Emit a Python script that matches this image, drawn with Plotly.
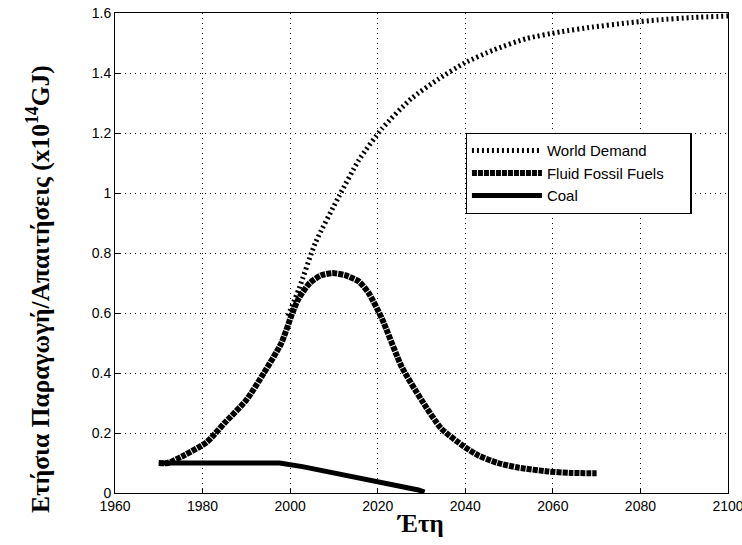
import plotly.graph_objs as go

# values
fossil_years = [1970, 1972, 1976, 1981, 1985, 1990, 1994, 1998, 2000.5, 2002, 2004.5,
                2007, 2009.6, 2012.5, 2015.7, 2018, 2021, 2025.5, 2030, 2034.5,
                2039.7, 2043, 2047.4, 2052, 2058.8, 2064, 2070]
fossil_vals = [0.10, 0.10, 0.127, 0.17, 0.233, 0.31, 0.40, 0.50, 0.60, 0.65, 0.70,
               0.725, 0.733, 0.726, 0.705, 0.665, 0.58, 0.42, 0.31, 0.215,
               0.155, 0.125, 0.10, 0.085, 0.072, 0.067, 0.066]

coal_years = [1970, 1980, 1990, 1997.6, 2002.8, 2010.3, 2020.3, 2026, 2029.3, 2030.7]
coal_vals = [0.10, 0.10, 0.10, 0.10, 0.088, 0.067, 0.037, 0.02, 0.01, 0.003]

demand_years = [1999.5, 2002, 2005.8, 2011.2, 2015.7, 2021, 2027.7, 2033.9, 2039.8,
                2046.5, 2054, 2061.7, 2069, 2077, 2084, 2092, 2100]
demand_vals = [0.59, 0.68, 0.835, 0.99, 1.11, 1.215, 1.315, 1.38, 1.433,
               1.477, 1.515, 1.537, 1.553, 1.567, 1.577, 1.585, 1.59]

fig = go.Figure()
fig.add_trace(go.Scatter(x=demand_years, y=demand_vals, name='World Demand', mode='lines',
                         line=dict(color='black', width=5, dash='2px,3px',
                                   shape='spline', smoothing=0.6)))
fig.add_trace(go.Scatter(x=fossil_years, y=fossil_vals,
                         name='Fluid Fossil Fuels\u00a0\u00a0\u00a0\u00a0\u00a0', mode='lines',
                         line=dict(color='black', width=6, dash='5px,1px',
                                   shape='spline', smoothing=0.6)))
fig.add_trace(go.Scatter(x=coal_years, y=coal_vals, name='Coal', mode='lines',
                         line=dict(color='black', width=5)))

axis_common = dict(showline=True, linecolor='black', linewidth=1, mirror=True,
                   showgrid=True, gridcolor='black', griddash='1px,4px', gridwidth=1,
                   ticks='inside', ticklen=5, tickcolor='black', zeroline=False,
                   automargin=False, ticklabeloverflow='allow',
                   tickfont=dict(family='Liberation Sans', size=14, color='black'))

fig.update_layout(
    width=742, height=545,
    margin=dict(l=115, r=14, t=13, b=52),
    paper_bgcolor='white', plot_bgcolor='white',
    xaxis=dict(range=[1960, 2100], dtick=20, tick0=1960, **axis_common),
    yaxis=dict(range=[0, 1.6], dtick=0.2, tick0=0, **axis_common),
    legend=dict(x=0.572, y=0.75, xanchor='left', yanchor='top',
                bordercolor='black', borderwidth=1.3, bgcolor='white',
                itemwidth=70, tracegroupgap=0,
                font=dict(family='Liberation Sans', size=15, color='black')),
    annotations=[
        dict(text='<b>Έτη</b>', xref='paper', yref='paper', x=0.4976, y=-0.064,
             xanchor='center', yanchor='middle', showarrow=False,
             font=dict(family='Liberation Serif', size=25, color='black')),
        dict(text='<b>Ετήσια Παραγωγή/Απαιτήσεις (x10<sup>14</sup>GJ)</b>',
             xref='paper', yref='paper', x=-0.1256, y=0.425, textangle=-90,
             xanchor='center', yanchor='middle', showarrow=False,
             font=dict(family='Liberation Serif', size=25.5, color='black')),
    ],
)

fig.write_html("out.html", config={'displayModeBar': False},
               post_script="document.body.style.margin='0';")
